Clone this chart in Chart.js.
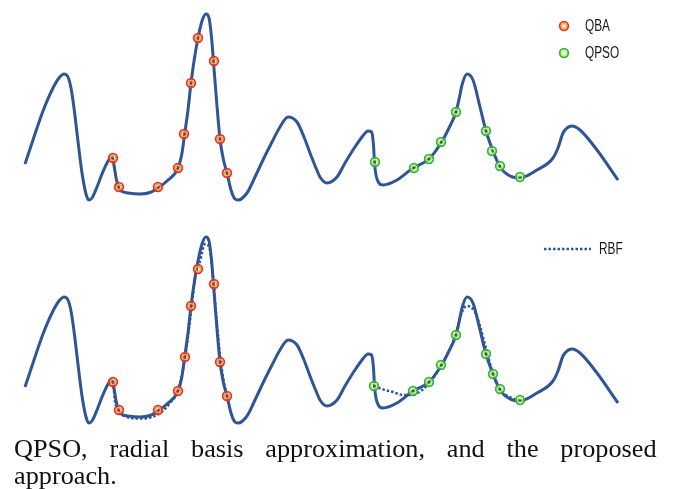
<!DOCTYPE html>
<html>
<head>
<meta charset="utf-8">
<script src="https://cdn.jsdelivr.net/npm/chart.js@4.4.1/dist/chart.umd.min.js"></script>
<style>
  body { margin: 0; background: #fff; }
  #wrap { position: relative; width: 673px; height: 489px; overflow: hidden; }
  canvas { position: absolute; left: 0; }
  #top { top: 0; }
  #bottom { top: 223px; }
  #caption {
    position: absolute; left: 14px; top: 435px; width: 612px;
    font-family: "Liberation Serif", "Tinos", "Times New Roman", serif;
    font-size: 25px; line-height: 27px; color: #111;
    text-align: justify; transform: scaleX(1.05); transform-origin: left top;
  }
</style>
</head>
<body>
<div id="wrap">
  <canvas id="top" width="673" height="215"></canvas>
  <canvas id="bottom" width="673" height="215"></canvas>
  <div id="caption">QPSO, radial basis approximation, and the proposed approach.</div>
</div>
<script>
// objective curve (same in both panels)
const curveX = [25, 33, 43, 53, 59, 64, 68, 71, 74, 77, 80, 82, 86, 89, 92, 97, 102, 107, 111.5, 113, 116.5, 120, 128, 140, 150, 158, 167, 178, 182, 184.5, 188, 191, 194.5, 198, 202, 206, 209, 211.5, 213.5, 216.5, 220, 223.5, 227, 231, 235, 238, 247, 255, 263, 272, 280, 288, 297, 304, 310, 316, 320, 327, 337, 345, 353, 362, 368, 371.5, 373.5, 374.5, 377, 383, 397, 413, 429, 441, 448, 456, 459.5, 462, 467, 473, 480, 486, 493, 500, 510, 520, 537, 553, 558, 563, 567, 572, 580, 597, 618]
const curveY = [51, 75, 104, 127, 137, 141, 138, 127, 107, 82, 57, 42, 21, 15, 17, 28, 41, 52, 58, 55, 35, 25, 22, 21, 22.5, 27, 34, 47, 62, 80, 105, 132, 157, 177, 194, 201, 197, 178, 153, 115, 76, 55, 42, 25, 16, 15, 22, 38, 55, 73, 88, 98, 93, 78, 62, 47, 38, 32, 38, 52, 65, 78, 84, 83, 70, 52, 36, 30, 35, 47, 56, 72, 85, 103, 118, 130, 141, 135, 108, 84, 64, 48, 39, 37, 45, 57, 67, 82, 87, 89, 85, 65, 35]

// top panel samples
const qbaX = [113, 119, 158, 178, 184, 191, 198, 214, 220, 227]
const qbaTopY = [57, 28, 28, 47, 81, 132, 177, 154, 76, 42]
const qpsoX = [375, 414, 429, 441, 456, 486, 492, 500, 520]
const qpsoTopY = [53, 47, 56, 73, 103, 84, 64, 49, 38]

// bottom panel samples
const qbaBotX = [113, 119, 158, 178, 185, 191, 198, 214, 220, 227]
const qbaBotY = [56, 28, 28, 47, 81, 132, 169, 154, 76, 42]
const qpsoBotX = [374, 413, 429, 441, 456, 486, 493, 500, 520]
const qpsoBotY = [52, 47, 56, 73, 103, 84, 64, 49, 38]

// RBF approximation (two pieces)
const rbfLeftX = [113, 115, 118, 123, 140, 157, 170, 178, 185, 191, 196, 200, 205, 208, 210.5, 213.5, 217, 221, 225, 227]
const rbfLeftY = [56, 37, 27, 22.5, 19.5, 23, 35, 48, 80, 126, 166, 177, 194, 193, 185, 156, 113, 75, 50, 42]
const rbfRightX = [374, 385, 393, 403, 410, 415, 421, 429, 440, 447, 453, 457, 460, 464, 467, 472, 476, 480, 484, 488, 492, 496, 500, 510, 520]
const rbfRightY = [52, 48, 46, 43, 43, 44, 47, 55, 70, 83, 96, 108, 120, 130, 132, 130, 124, 112, 97, 82, 67, 56, 48, 41, 37]

const blue = '#2f5597'
const red = { outer: '#f2301a', inner: '#ffa640' }
const green = { outer: '#2fb548', inner: '#cdef5a' }

const pts = (xs, ys) => xs.map((x, i) => ({ x: x, y: ys[i] }))

const curveSet = (xs, ys, dashed) => ({
    data: pts(xs, ys),
    borderColor: blue,
    borderWidth: dashed ? 2.5 : 3,
    borderDash: dashed ? [2.5, 2] : [],
    pointRadius: 0,
    cubicInterpolationMode: 'monotone',
    fill: false,
    clip: false,
    order: dashed ? 4 : 5
})

const ringSets = (xs, ys, col) => ([
    { data: pts(xs, ys), showLine: false, pointRadius: 2.5, pointBorderWidth: 1.3,
      pointBorderColor: col.inner, pointBackgroundColor: 'rgba(0,0,0,0)', clip: false, order: 0 },
    { data: pts(xs, ys), showLine: false, pointRadius: 4.3, pointBorderWidth: 1.8,
      pointBorderColor: col.outer, pointBackgroundColor: 'rgba(0,0,0,0)', clip: false, order: 1 }
])

//legend drawn inside the panel
const panelLegend = {
    id: 'panelLegend',
    afterDatasetsDraw(chart, args, opts) {
        const ctx = chart.ctx
        ctx.save()
        opts.items.forEach(item => {
            if (item.ring) {
                ctx.lineWidth = 1.8
                ctx.strokeStyle = item.ring.outer
                ctx.beginPath(); ctx.arc(item.x, item.y, 4.3, 0, Math.PI * 2); ctx.stroke()
                ctx.lineWidth = 1.3
                ctx.strokeStyle = item.ring.inner
                ctx.beginPath(); ctx.arc(item.x, item.y, 2.5, 0, Math.PI * 2); ctx.stroke()
            } else {
                ctx.lineWidth = 2.5
                ctx.strokeStyle = blue
                ctx.setLineDash([2.5, 2])
                ctx.beginPath(); ctx.moveTo(item.x - 20, item.y); ctx.lineTo(item.x + 27, item.y); ctx.stroke()
                ctx.setLineDash([])
            }
            // condensed label text
            ctx.save()
            ctx.translate(item.tx, item.y + 1)
            ctx.scale(0.74, 1)
            ctx.font = '16px "Liberation Sans", Arial, sans-serif'
            ctx.textBaseline = 'middle'
            ctx.fillStyle = '#1a1a1a'
            ctx.fillText(item.label, 0, 0)
            ctx.restore()
        })
        ctx.restore()
    }
}

function makeChart(id, datasets, legendItems) {
    return new Chart(document.getElementById(id), {
        type: 'line',
        data: { datasets: datasets },
        options: {
            responsive: false,
            animation: false,
            layout: { padding: 0, autoPadding: false },
            scales: {
                x: { type: 'linear', min: 0, max: 673, display: false },
                y: { type: 'linear', min: 0, max: 215, display: false }
            },
            plugins: {
                legend: { display: false },
                tooltip: { enabled: false },
                panelLegend: { items: legendItems }
            }
        },
        plugins: [panelLegend]
    })
}

document.addEventListener('DOMContentLoaded', () => {
    makeChart('top', [
        ...ringSets(qbaX, qbaTopY, red),
        ...ringSets(qpsoX, qpsoTopY, green),
        curveSet(curveX, curveY, false)
    ], [
        { label: 'QBA', ring: red, x: 564, y: 26, tx: 585 },
        { label: 'QPSO', ring: green, x: 564, y: 53, tx: 585 }
    ])

    makeChart('bottom', [
        ...ringSets(qbaBotX, qbaBotY, red),
        ...ringSets(qpsoBotX, qpsoBotY, green),
        curveSet(rbfLeftX, rbfLeftY, true),
        curveSet(rbfRightX, rbfRightY, true),
        curveSet(curveX, curveY, false)
    ], [
        { label: 'RBF', x: 564, y: 26, tx: 599 }
    ])
})
</script>
</body>
</html>
